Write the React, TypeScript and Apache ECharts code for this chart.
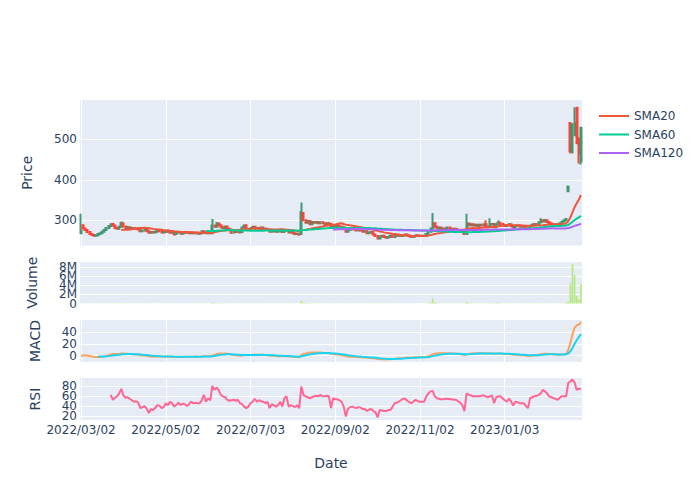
import React, { useEffect, useRef } from "react";
import * as echarts from "echarts";

const FONT = "DejaVu Sans";
const INK = "#2a3f5f";

// Tick labels shown on the date axis, one every 40 trading days
const tickLabels = ["2022/03/02", "2022/05/02", "2022/07/03", "2022/09/02", "2022/11/02", "2023/01/03"];
const tickEvery = 40;

// Daily OHLC
const opens = [
  268, 288, 280, 276, 271, 266, 264, 262, 263, 266,
  268, 272, 276, 281, 286, 291, 287, 281, 279, 284,
  293, 285, 281, 283, 280, 281, 279, 280, 277, 273,
  275, 276, 273, 269, 271, 270, 272, 274, 273, 270,
  271, 274, 272, 269, 271, 266, 269, 270, 267, 269,
  271, 269, 268, 270, 268, 269, 267, 268, 273, 270,
  268, 270, 268, 287, 284, 292, 288, 283, 281, 285,
  279, 277, 270, 273, 271, 273, 271, 282, 288, 278,
  276, 281, 284, 280, 281, 279, 282, 278, 279, 277,
  272, 273, 275, 272, 273, 275, 271, 274, 276, 270,
  271, 268, 266, 267, 266, 318, 300, 294, 298, 290,
  296, 294, 296, 293, 295, 293, 291, 293, 291, 283,
  288, 285, 287, 285, 283, 280, 272, 276, 278, 279,
  277, 275, 277, 275, 272, 273, 268, 270, 271, 265,
  261, 255, 260, 262, 259, 257, 259, 262, 259, 264,
  262, 264, 261, 263, 265, 263, 261, 259, 261, 263,
  262, 261, 262, 261, 266, 272, 280, 293, 284, 280,
  282, 278, 280, 278, 282, 279, 277, 279, 277, 275,
  276, 272, 266, 292, 288, 290, 287, 289, 286, 289,
  287, 290, 285, 284, 290, 291, 283, 290, 294, 291,
  288, 286, 288, 290, 286, 283, 286, 287, 284, 286,
  284, 280, 279, 286, 289, 291, 290, 295, 300, 297,
  300, 296, 293, 291, 289, 290, 288, 293, 297, 300,
  372, 540, 470, 510, 578, 502, 445,
];
const closes = [
  274, 280, 276, 271, 266, 264, 262, 263, 266, 268,
  272, 276, 281, 286, 290, 287, 281, 279, 284, 293,
  285, 281, 283, 280, 281, 279, 280, 277, 273, 275,
  276, 273, 269, 271, 270, 272, 274, 273, 270, 271,
  274, 272, 269, 271, 266, 269, 270, 267, 269, 271,
  269, 268, 270, 268, 269, 267, 268, 273, 270, 268,
  270, 268, 287, 284, 292, 288, 283, 281, 285, 279,
  276, 270, 273, 271, 273, 270, 282, 287, 278, 276,
  281, 284, 280, 281, 279, 282, 278, 279, 277, 272,
  273, 275, 272, 273, 275, 271, 274, 276, 270, 271,
  268, 266, 267, 265, 320, 300, 294, 298, 290, 296,
  294, 296, 293, 295, 293, 291, 293, 291, 283, 288,
  285, 287, 285, 283, 280, 272, 276, 278, 279, 277,
  275, 277, 275, 272, 273, 268, 270, 271, 265, 261,
  255, 260, 262, 259, 257, 259, 262, 259, 264, 262,
  264, 261, 263, 265, 263, 261, 259, 261, 263, 262,
  261, 262, 261, 266, 272, 280, 293, 284, 280, 282,
  278, 280, 278, 282, 279, 277, 279, 277, 275, 276,
  272, 266, 292, 288, 290, 287, 289, 286, 289, 287,
  290, 285, 284, 290, 291, 283, 290, 294, 291, 288,
  286, 288, 290, 286, 283, 286, 287, 284, 286, 284,
  280, 279, 286, 289, 291, 290, 295, 300, 297, 300,
  296, 293, 291, 289, 290, 288, 293, 297, 300, 303,
  383, 470, 535, 540, 490, 465, 528,
];
const highs = [
  316, 290, 281, 277, 272, 267, 265, 264, 267, 269,
  273, 277, 282, 287, 291, 292, 288, 282, 285, 297,
  294, 286, 284, 284, 282, 282, 281, 281, 278, 276,
  277, 277, 274, 272, 272, 273, 275, 275, 274, 272,
  275, 275, 273, 272, 272, 270, 271, 271, 270, 272,
  272, 270, 271, 271, 270, 270, 269, 274, 274, 271,
  271, 271, 303, 289, 296, 293, 289, 284, 286, 286,
  280, 278, 274, 274, 274, 274, 284, 289, 290, 279,
  282, 285, 285, 282, 282, 283, 283, 280, 280, 278,
  274, 276, 276, 274, 276, 276, 275, 277, 277, 272,
  272, 269, 268, 268, 344, 320, 301, 299, 299, 298,
  297, 297, 297, 296, 296, 294, 294, 294, 292, 289,
  289, 288, 288, 286, 284, 281, 277, 279, 280, 280,
  278, 278, 278, 276, 274, 274, 271, 272, 272, 266,
  262, 261, 263, 263, 260, 260, 265, 263, 265, 265,
  265, 265, 264, 266, 266, 264, 262, 262, 264, 264,
  263, 263, 263, 267, 273, 282, 318, 294, 285, 283,
  283, 281, 281, 283, 283, 280, 280, 280, 278, 277,
  277, 273, 316, 293, 291, 291, 290, 290, 290, 290,
  291, 300, 286, 305, 292, 292, 291, 300, 295, 292,
  289, 289, 291, 291, 287, 287, 288, 288, 287, 287,
  285, 281, 287, 290, 292, 292, 296, 305, 301, 303,
  301, 297, 294, 292, 291, 291, 294, 298, 301, 304,
  386, 542, 540, 579, 580, 505, 531,
];
const lows = [
  266, 279, 275, 270, 265, 262, 260, 260, 262, 265,
  267, 271, 275, 280, 285, 286, 280, 277, 278, 283,
  284, 280, 280, 279, 279, 278, 278, 276, 272, 272,
  274, 272, 268, 268, 269, 269, 271, 272, 269, 269,
  270, 271, 268, 268, 262, 265, 268, 266, 266, 268,
  268, 267, 267, 267, 267, 266, 266, 267, 269, 267,
  267, 266, 267, 283, 283, 287, 282, 280, 280, 278,
  275, 266, 269, 270, 270, 269, 270, 281, 277, 275,
  275, 280, 279, 279, 278, 278, 277, 277, 276, 271,
  271, 272, 271, 271, 272, 270, 270, 273, 269, 269,
  267, 263, 265, 262, 265, 298, 292, 293, 289, 289,
  293, 293, 292, 292, 292, 290, 290, 290, 282, 282,
  284, 284, 284, 282, 279, 270, 271, 275, 277, 276,
  274, 274, 274, 271, 271, 267, 267, 269, 264, 260,
  254, 254, 259, 258, 256, 256, 258, 258, 258, 261,
  261, 260, 260, 262, 262, 260, 258, 258, 260, 261,
  260, 260, 260, 260, 265, 271, 279, 283, 279, 279,
  277, 277, 277, 277, 278, 276, 276, 276, 274, 274,
  271, 265, 265, 287, 287, 286, 286, 285, 285, 286,
  286, 284, 283, 283, 289, 282, 282, 289, 290, 287,
  285, 285, 287, 285, 282, 282, 285, 283, 283, 283,
  279, 278, 278, 285, 288, 289, 289, 294, 296, 296,
  295, 292, 290, 288, 288, 287, 287, 292, 296, 299,
  370, 465, 465, 508, 488, 440, 438,
];

// Daily volume, millions of shares
const volumeM = [
  0.06, 0.04, 0.03, 0.05, 0.04, 0.03, 0.03, 0.02, 0.03, 0.04,
  0.03, 0.04, 0.05, 0.04, 0.05, 0.03, 0.04, 0.03, 0.04, 0.08,
  0.04, 0.03, 0.03, 0.02, 0.03, 0.02, 0.03, 0.02, 0.04, 0.03,
  0.02, 0.03, 0.04, 0.03, 0.02, 0.02, 0.03, 0.02, 0.03, 0.02,
  0.03, 0.02, 0.03, 0.02, 0.05, 0.03, 0.02, 0.03, 0.02, 0.02,
  0.03, 0.02, 0.02, 0.03, 0.02, 0.02, 0.03, 0.04, 0.03, 0.02,
  0.02, 0.03, 0.22, 0.08, 0.09, 0.05, 0.04, 0.03, 0.04, 0.04,
  0.03, 0.05, 0.03, 0.02, 0.03, 0.03, 0.06, 0.05, 0.05, 0.03,
  0.04, 0.04, 0.03, 0.03, 0.02, 0.03, 0.03, 0.02, 0.03, 0.04,
  0.03, 0.03, 0.03, 0.02, 0.03, 0.03, 0.03, 0.04, 0.04, 0.02,
  0.03, 0.03, 0.02, 0.04, 0.65, 0.22, 0.12, 0.09, 0.08, 0.07,
  0.05, 0.05, 0.04, 0.04, 0.03, 0.03, 0.03, 0.03, 0.05, 0.04,
  0.03, 0.03, 0.03, 0.03, 0.04, 0.06, 0.04, 0.03, 0.03, 0.02,
  0.03, 0.02, 0.02, 0.03, 0.02, 0.04, 0.03, 0.02, 0.04, 0.04,
  0.06, 0.05, 0.03, 0.03, 0.03, 0.02, 0.03, 0.03, 0.04, 0.03,
  0.03, 0.02, 0.02, 0.03, 0.02, 0.02, 0.03, 0.02, 0.03, 0.02,
  0.02, 0.02, 0.02, 0.04, 0.08, 0.15, 1.1, 0.25, 0.1, 0.06,
  0.05, 0.04, 0.04, 0.05, 0.04, 0.03, 0.03, 0.03, 0.03, 0.03,
  0.04, 0.06, 0.35, 0.12, 0.06, 0.05, 0.04, 0.04, 0.03, 0.04,
  0.04, 0.08, 0.05, 0.1, 0.05, 0.06, 0.05, 0.15, 0.06, 0.04,
  0.04, 0.03, 0.04, 0.04, 0.04, 0.03, 0.03, 0.03, 0.03, 0.03,
  0.04, 0.03, 0.05, 0.05, 0.04, 0.03, 0.05, 0.08, 0.05, 0.06,
  0.05, 0.04, 0.03, 0.03, 0.03, 0.03, 0.05, 0.06, 0.08, 0.2,
  0.3, 4.4, 8.75, 6.3, 1.7, 0.9, 4.4,
];

// RSI(14) (no value for the first 14 days)
const rsi = [
  null, null, null, null, null, null, null, null, null, null,
  null, null, null, null, 63, 53, 57, 60, 66, 75,
  62, 57, 58, 55, 52, 49, 50, 47, 36, 38,
  40, 35, 26, 34, 32, 36, 42, 41, 36, 38,
  46, 42, 49, 46, 39, 43, 47, 42, 45, 44,
  40, 44, 49, 46, 47, 46, 46, 52, 63, 49,
  56, 52, 81, 73, 78, 72, 63, 60, 58, 53,
  51, 52, 53, 51, 53, 46, 44, 39, 36, 39,
  46, 49, 55, 49, 52, 50, 49, 46, 49, 36,
  44, 42, 39, 42, 49, 39, 56, 60, 39, 42,
  40, 38, 42, 36, 80, 63, 60, 58, 56, 58,
  60, 61, 60, 63, 60, 60, 61, 60, 36, 56,
  54, 54, 52, 49, 39, 19, 34, 38, 39, 37,
  36, 38, 37, 34, 34, 30, 33, 34, 30, 28,
  17, 32, 31, 30, 30, 32, 32, 38, 46, 47,
  49, 52, 55, 55, 51, 48, 46, 50, 53, 50,
  49, 49, 49, 60, 66, 70, 71, 60, 56, 55,
  54, 54, 55, 55, 54, 54, 53, 53, 50, 47,
  42, 30, 66, 63, 62, 60, 60, 60, 60, 61,
  62, 60, 58, 60, 62, 46, 58, 60, 60, 56,
  52, 49, 55, 50, 41, 49, 48, 46, 46, 46,
  40, 36, 56, 58, 60, 61, 63, 66, 73, 70,
  66, 60, 58, 56, 55, 53, 57, 60, 60, 60,
  87, 90, 94, 88, 73, 75, 76,
];

// Axis ticks for each panel
const priceTicks = [300, 400, 500];
const volumeTicks = [0, 2, 4, 6, 8];
const macdTicks = [0, 20, 40];
const rsiTicks = [20, 40, 60, 80];

// Indicator periods
const smaPeriods = [20, 60, 120];
const smaColors = ["#EF553B", "#00CC96", "#AB63FA"];
const macdFast = 12;
const macdSlow = 26;
const macdSignal = 9;

function sma(values: number[], n: number): (number | null)[] {
  return values.map((_, i) => {
    if (i < n - 1) return null;
    let s = 0;
    for (let k = i - n + 1; k <= i; k++) s += values[k];
    return s / n;
  });
}
function ema(values: number[], span: number): number[] {
  const a = 2 / (span + 1);
  const out: number[] = [];
  values.forEach((v, i) => out.push(i === 0 ? v : a * v + (1 - a) * out[i - 1]));
  return out;
}

export default function App() {
  const ref = useRef<HTMLDivElement>(null);
  useEffect(() => {
    if (!ref.current) return;
    const chart = echarts.init(ref.current, undefined, { renderer: "svg" });
    const cats = closes.map((_, i) => String(i));
    const e12 = ema(closes, macdFast);
    const e26 = ema(closes, macdSlow);
    const macd = e12.map((v, i) => v - e26[i]);
    const sigFull = ema(macd, macdSignal);
    const signal = sigFull.map((v, i) => (i < macdSignal - 1 ? null : v));

    const grids = [
      { top: 100, height: 145.5 },
      { top: 262, height: 41.5 },
      { top: 320, height: 42 },
      { top: 378, height: 42 },
    ];
    const volFmt = (v: number) => (v === 0 ? "0" : v + "M");
    const numFmt = (v: number) => String(v);
    const yDefs = [
      { min: 237.8, max: 597, ticks: priceTicks, fmt: numFmt },
      { min: 0, max: 9.2, ticks: volumeTicks, fmt: volFmt },
      { min: -10.8, max: 61, ticks: macdTicks, fmt: numFmt },
      { min: 11.8, max: 97.2, ticks: rsiTicks, fmt: numFmt },
    ];
    const titles = [
      { text: "Price", x: 27 },
      { text: "Volume", x: 32 },
      { text: "MACD", x: 35 },
      { text: "RSI", x: 35 },
    ];

    // Each panel gets two y axes with identical scales: labels alternate
    // between them so that tightly packed labels are all drawn.
    const yAxes: any[] = [];
    yDefs.forEach((d, i) => {
      const even = d.ticks.filter((_, k) => k % 2 === 0);
      const odd = d.ticks.filter((_, k) => k % 2 === 1);
      [even, odd].forEach((labels, part) => {
        yAxes.push({
          type: "value",
          gridIndex: i,
          position: "left",
          offset: 0,
          min: d.min,
          max: d.max,
          axisLine: { show: false },
          axisTick: { show: false, customValues: d.ticks },
          axisLabel: {
            show: labels.length > 0,
            customValues: labels.length ? labels : d.ticks,
            formatter: d.fmt,
            color: INK,
            fontSize: 12,
            fontFamily: FONT,
            margin: 3,
            showMinLabel: true,
            showMaxLabel: true,
          },
          splitLine: { show: part === 0, lineStyle: { color: "#ffffff", width: 1 } },
        });
      });
    });

    const option: any = {
      animation: false,
      backgroundColor: "#ffffff",
      textStyle: { fontFamily: FONT },
      legend: {
        orient: "vertical",
        left: 594,
        top: 105,
        itemWidth: 30,
        itemHeight: 2,
        itemGap: 6.5,
        icon: "rect",
        data: ["SMA20", "SMA60", "SMA120"],
        textStyle: { color: INK, fontSize: 12, fontFamily: FONT },
        selectedMode: false,
      },
      grid: grids.map((g) => ({
        left: 80,
        right: 118,
        top: g.top,
        height: g.height,
        show: true,
        backgroundColor: "#E5ECF6",
        borderWidth: 0,
      })),
      xAxis: grids.map((_, i) => ({
        type: "category",
        gridIndex: i,
        data: cats,
        boundaryGap: true,
        axisLine: { show: false },
        axisTick: { show: false, interval: tickEvery - 1, alignWithLabel: true },
        axisLabel: {
          show: i === 3,
          interval: tickEvery - 1,
          margin: 4,
          color: INK,
          fontSize: 12,
          fontFamily: FONT,
          formatter: (_v: string, idx: number) => tickLabels[idx / tickEvery] ?? "",
        },
        splitLine: {
          show: i !== 1,
          interval: tickEvery - 1,
          alignWithLabel: true,
          lineStyle: { color: "#ffffff", width: 1 },
        },
      })),
      yAxis: yAxes,
      graphic: [
        ...titles.map((t, i) => ({
          type: "text",
          x: t.x,
          y: grids[i].top + grids[i].height / 2,
          rotation: Math.PI / 2,
          silent: true,
          style: {
            text: t.text,
            fill: INK,
            fontSize: 14,
            fontFamily: FONT,
            align: "center",
            verticalAlign: "middle",
            textAlign: "center",
            textVerticalAlign: "middle",
          },
        })),
        {
          type: "text",
          x: 331,
          y: 463,
          silent: true,
          style: {
            text: "Date",
            fill: INK,
            fontSize: 14,
            fontFamily: FONT,
            align: "center",
            verticalAlign: "middle",
            textAlign: "center",
            textVerticalAlign: "middle",
          },
        },
      ],
      series: [
        {
          type: "candlestick",
          name: "Candles",
          xAxisIndex: 0,
          yAxisIndex: 0,
          silent: true,
          barWidth: 1.5,
          data: opens.map((o, i) => [o, closes[i], lows[i], highs[i]]),
          itemStyle: {
            color: "rgba(61,153,112,0.5)",
            color0: "rgba(255,65,54,0.5)",
            borderColor: "#3D9970",
            borderColor0: "#FF4136",
            borderWidth: 2,
          },
        },
        ...smaPeriods.map((p, k) => ({
          type: "line",
          name: "SMA" + p,
          xAxisIndex: 0,
          yAxisIndex: 0,
          silent: true,
          data: sma(closes, p),
          showSymbol: false,
          symbol: "none",
          color: smaColors[k],
          lineStyle: { color: smaColors[k], width: 2 },
        })),
        {
          type: "bar",
          name: "Volume",
          xAxisIndex: 1,
          yAxisIndex: 2,
          silent: true,
          data: volumeM,
          barWidth: "80%",
          itemStyle: { color: "#B6E880" },
        },
        {
          type: "line",
          name: "MACD",
          xAxisIndex: 2,
          yAxisIndex: 4,
          silent: true,
          data: macd,
          symbol: "none",
          lineStyle: { color: "#FFA15A", width: 2 },
        },
        {
          type: "line",
          name: "Signal",
          xAxisIndex: 2,
          yAxisIndex: 4,
          silent: true,
          data: signal,
          symbol: "none",
          lineStyle: { color: "#19D3F3", width: 2 },
        },
        {
          type: "line",
          name: "RSI",
          xAxisIndex: 3,
          yAxisIndex: 6,
          silent: true,
          data: rsi,
          symbol: "none",
          lineStyle: { color: "#FF6692", width: 2 },
        },
      ],
    };
    chart.setOption(option);
    return () => chart.dispose();
  }, []);
  return (
    <div
      ref={ref}
      style={{ position: "fixed", left: 0, top: 0, width: 700, height: 500, background: "#fff" }}
    />
  );
}
